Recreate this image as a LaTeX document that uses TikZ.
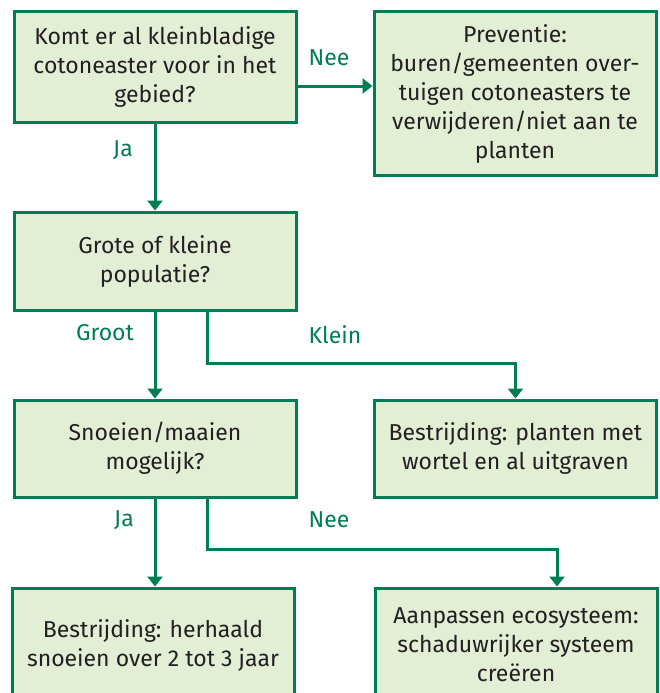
\documentclass[tikz,border=0pt]{standalone}
\usepackage{fontspec}
\setmainfont{Fira Sans}
\usetikzlibrary{arrows.meta}
\definecolor{lg}{RGB}{0,125,85}
\definecolor{lf}{RGB}{226,239,213}
\definecolor{tx}{RGB}{35,31,32}
\begin{document}
\begin{tikzpicture}[x=1pt,y=-1pt,
  box/.style={draw=lg, line width=3pt, fill=lf, align=center, text=tx,
    font=\fontsize{23}{29}\selectfont, inner sep=0pt, minimum width=282pt},
  lbl/.style={text=lg, font=\fontsize{23}{29}\selectfont, inner sep=0pt},
  arr/.style={draw=lg, line width=3pt, -{Triangle[width=15pt,length=10pt]}}]
\clip (0,0) rectangle (660,693);
\fill[white] (0,0) rectangle (660,693);
\node[box, minimum height=110pt] (b1) at (155,67) {Komt er al kleinbladige\\cotoneaster voor in het\\gebied?};
\node[box, minimum height=163pt] (b2) at (515,93.5) {Preventie:\\buren/gemeenten over-\\tuigen cotoneasters te\\verwijderen/niet aan te\\planten};
\node[box, minimum height=98pt] (b3) at (155,261) {Grote of kleine\\populatie?};
\node[box, minimum height=97pt] (b4) at (155,448.5) {Snoeien/maaien\\mogelijk?};
\node[box, minimum height=97pt] (b5) at (515.5,448.5) {Bestrijding: planten met\\wortel en al uitgraven};
\node[box, minimum height=114pt] (b6) at (153,645) {Bestrijding: herhaald\\snoeien over 2 tot 3 jaar};
\node[box, minimum height=114pt] (b7) at (516,645) {Aanpassen ecosysteem:\\schaduwrijker systeem\\creëren};
% connectors
\coordinate (n0) at ([yshift=-19pt]b1.east);
\draw[arr] (n0) -- (b2.west |- n0);
\draw[arr] (b1.south) -- (b1.south |- b3.north);
\draw[arr] (b3.south) -- (b3.south |- b4.north);
\coordinate (k1) at (207,363);
\draw[arr] ([xshift=52pt]b3.south) -- (k1) -| (b5.north);
\draw[arr] (b4.south) -- (b4.south |- b6.north);
\coordinate (k2) at (207,549);
\draw[arr] ([xshift=52pt]b4.south) -- (k2) -| ([xshift=41pt]b7.north);
% labels
\node[lbl] (l1) at (329,58) {Nee};
\node[lbl] (l2) at (123,150) {Ja};
\node[lbl] (l3) at (105,333) {Groot};
\node[lbl] (l4) at (335,335) {Klein};
\node[lbl] (l5) at (124,520) {Ja};
\node[lbl] (l6) at (329,520) {Nee};
\end{tikzpicture}
\end{document}
